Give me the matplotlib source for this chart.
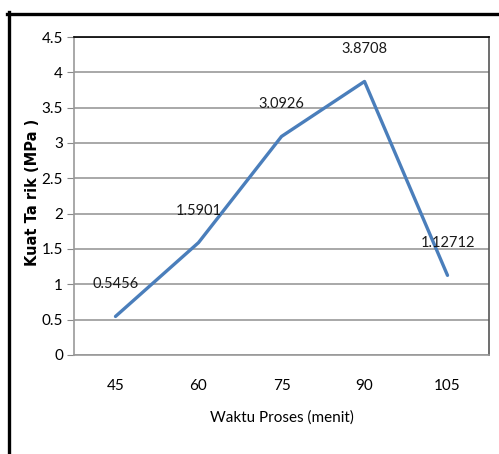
import matplotlib.pyplot as plt
from matplotlib.lines import Line2D

# waktu proses vs kuat tarik
waktu = ["45", "60", "75", "90", "105"]
kuat_tarik = [0.5456, 1.5901, 3.0926, 3.8708, 1.12712]
label_nilai = ["0.5456", "1.5901", "3.0926", "3.8708", "1.12712"]
y_ticks = [0, 0.5, 1, 1.5, 2, 2.5, 3, 3.5, 4, 4.5]

plt.rcParams["font.family"] = ["Lato", "DejaVu Sans"]

W, H = 499, 454
fig = plt.figure(figsize=(W / 100, H / 100), dpi=100)
ax = fig.add_axes([74 / W, 1 - 355 / H, 415 / W, 318 / H])

xs = list(range(len(waktu)))
ax.plot(xs, kuat_tarik, color="#4A7EBB", linewidth=2.4, solid_capstyle="round")

# label nilai ~32 px di atas titik
for x, y, t in zip(xs, kuat_tarik, label_nilai):
    ax.annotate(t, (x, y), xytext=(0, 32), textcoords="offset pixels",
                ha="center", va="center", fontsize=10.5, color="#1a1a1a")

ax.set_xlim(-0.5, 4.5)
ax.set_ylim(0, 4.5)
ax.set_yticks(y_ticks)
ax.set_yticklabels([f"{v:g}" for v in y_ticks])
ax.set_xticks(xs)
ax.set_xticklabels(waktu)
ax.tick_params(axis="y", length=5, color="#888888", labelsize=11, pad=3)
ax.tick_params(axis="x", length=0, labelsize=11, pad=17)
ax.grid(axis="y", color="#999999", linewidth=1.2)
ax.set_axisbelow(True)

ax.spines["top"].set_color("black")
ax.spines["top"].set_linewidth(1.2)
ax.spines["right"].set_color("#555555")
ax.spines["left"].set_color("#999999")
ax.spines["bottom"].set_color("#999999")
for s in ("right", "left", "bottom"):
    ax.spines[s].set_linewidth(1.2)

ax.set_xlabel("Waktu Proses (menit)", fontsize=11, labelpad=13)
ax.set_ylabel("Kuat Ta rik (MPa )", fontsize=10.5, fontweight="bold",
              family="DejaVu Sans")
ax.yaxis.set_label_coords(-0.082, 0.51)

# bingkai luar
fig.add_artist(Line2D([8.5 / W, 8.5 / W], [0, 1 - 12 / H], color="black",
                      linewidth=2.4, transform=fig.transFigure))
fig.add_artist(Line2D([7 / W, 1], [1 - 13.5 / H, 1 - 13.5 / H], color="black",
                      linewidth=2.4, transform=fig.transFigure))

fig.savefig("out.png", dpi=100)
